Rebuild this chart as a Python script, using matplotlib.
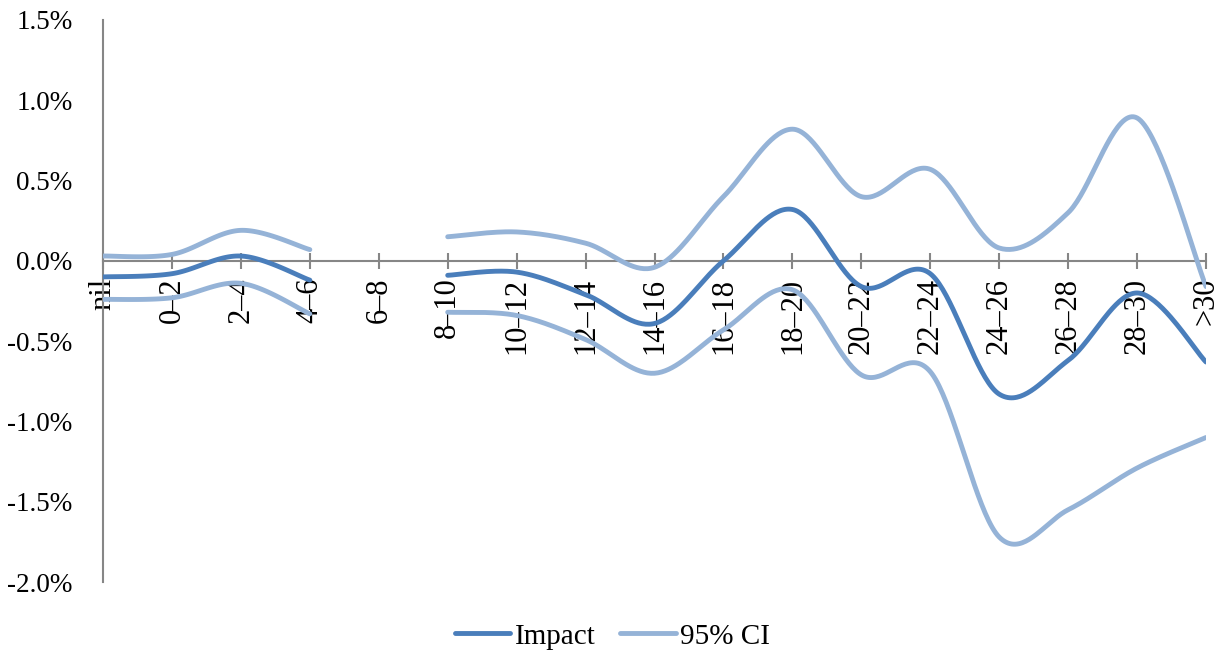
import numpy as np
import matplotlib.pyplot as plt
from matplotlib.ticker import FuncFormatter

plt.rcParams['font.family'] = ['Liberation Serif', 'DejaVu Serif']

# hours bands, 6-8 has no estimate
bands = ["nil", "0\u20132", "2\u20134", "4\u20136", "6\u20138", "8\u201310", "10\u201312",
         "12\u201314", "14\u201316", "16\u201318", "18\u201320", "20\u201322", "22\u201324",
         "24\u201326", "26\u201328", "28\u201330", ">30"]
nan = np.nan
impact = [-0.10, -0.08, 0.03, -0.12, nan, -0.09, -0.07, -0.21, -0.39, 0.00,
          0.32, -0.16, -0.08, -0.83, -0.62, -0.20, -0.63]
ci_upper = [0.03, 0.04, 0.19, 0.07, nan, 0.15, 0.18, 0.11, -0.04, 0.40,
            0.82, 0.40, 0.57, 0.08, 0.30, 0.89, -0.16]
ci_lower = [-0.24, -0.23, -0.14, -0.33, nan, -0.32, -0.34, -0.49, -0.70, -0.43,
            -0.18, -0.71, -0.69, -1.72, -1.55, -1.29, -1.10]

DARK = "#4A7EBB"
LIGHT = "#95B3D7"
GREY = "#868686"


def smooth(xs, ys, steps=40):
    # spreadsheet style smoothed line: cubic bezier through each point
    xs = np.asarray(xs, float)
    ys = np.asarray(ys, float)
    n = len(xs)
    if n < 2:
        return xs, ys
    px = np.concatenate([[xs[0]], xs, [xs[-1]]])
    py = np.concatenate([[ys[0]], ys, [ys[-1]]])
    t = np.linspace(0, 1, steps)
    outx, outy = [], []
    for i in range(n - 1):
        p0x, p0y = px[i + 1], py[i + 1]
        p3x, p3y = px[i + 2], py[i + 2]
        c1x = p0x + (px[i + 2] - px[i]) / 6
        c1y = p0y + (py[i + 2] - py[i]) / 6
        c2x = p3x - (px[i + 3] - px[i + 1]) / 6
        c2y = p3y - (py[i + 3] - py[i + 1]) / 6
        a = (1 - t) ** 3
        b = 3 * (1 - t) ** 2 * t
        c = 3 * (1 - t) * t ** 2
        d = t ** 3
        outx.append(a * p0x + b * c1x + c * c2x + d * p3x)
        outy.append(a * p0y + b * c1y + c * c2y + d * p3y)
    return np.concatenate(outx), np.concatenate(outy)


def draw(ax, vals, color, label):
    vals = np.asarray(vals, float)
    x = np.arange(len(vals))
    ok = ~np.isnan(vals)
    # split into runs where a value exists
    runs = []
    cur = []
    for i in range(len(vals)):
        if ok[i]:
            cur.append(i)
        elif cur:
            runs.append(cur)
            cur = []
    if cur:
        runs.append(cur)
    for k, r in enumerate(runs):
        sx, sy = smooth(x[r], vals[r])
        ax.plot(sx, sy, color=color, lw=3.5, solid_capstyle='round',
                label=label if k == 0 else '_nolegend_', zorder=3)


fig = plt.figure(figsize=(12.25, 6.53), dpi=100)
ax = fig.add_axes([0.0841, 0.1087, 0.9004, 0.8607])

draw(ax, impact, DARK, "Impact")
draw(ax, ci_upper, LIGHT, "95% CI")
draw(ax, ci_lower, LIGHT, None)

# x axis sits on zero; set this before the tick labels (it resets ticks)
for s in ['top', 'right']:
    ax.spines[s].set_visible(False)
ax.spines['bottom'].set_position(('data', 0))
ax.spines['bottom'].set_color(GREY)
ax.spines['bottom'].set_linewidth(1.5)
ax.spines['left'].set_color(GREY)
ax.spines['left'].set_linewidth(1.5)

ax.set_xlim(0, len(bands) - 1)
ax.set_ylim(-2.0, 1.5)
ax.set_yticks(np.arange(-2.0, 1.51, 0.5))
ax.yaxis.set_major_formatter(FuncFormatter(lambda v, p: "%.1f%%" % v))
ax.tick_params(axis='y', length=0, pad=22, labelsize=19.5)

ax.set_xticks(np.arange(len(bands)))
ax.tick_params(axis='x', direction='inout', length=12, width=1.5, color=GREY, pad=6)
ax.set_xticklabels(bands, rotation=90, va='top', ha='center', fontsize=22)

fig.legend(loc='lower center', bbox_to_anchor=(0.5, -0.035), ncol=2, frameon=False,
           fontsize=21, handlelength=1.9, handletextpad=0.15, columnspacing=0.85)

fig.savefig("out.png", dpi=100)
